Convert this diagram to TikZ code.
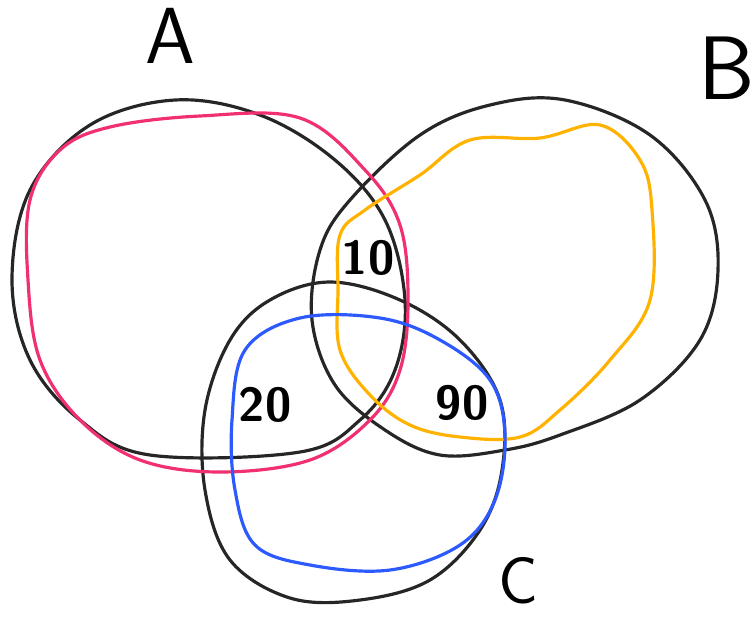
\documentclass[tikz,border=0pt]{standalone}
\begin{document}
\begin{tikzpicture}[
            x=0.0265cm, y=-0.0265cm,
            setline/.style={line width=2.4pt, line join=round},
            setlabel/.style={font=\sffamily\fontsize{60}{64}\selectfont, inner sep=0pt},
            count/.style={font=\sffamily\bfseries\fontsize{36}{40}\selectfont, inner sep=0pt}
        ]
            \useasboundingbox (0,0) rectangle (755,619);
            % black sets
            \draw[setline, black!85] plot[smooth cycle, tension=0.6] coordinates {
                (175,100) (260,115) (335,160) (385,220) (405,300) (395,370) (360,420)
                (300,452) (150,455) (80,420) (30,360) (12,280) (30,190) (90,125)};
            \draw[setline, black!85] plot[smooth cycle, tension=0.6] coordinates {
                (565,100) (650,135) (705,200) (718,270) (700,340) (640,400) (560,435)
                (505,450) (440,455) (385,430) (335,385) (312,320) (320,250) (350,200)
                (420,135) (490,105)};
            \draw[setline, black!85] plot[smooth cycle, tension=0.6] coordinates {
                (330,282) (400,300) (460,340) (500,400) (502,470) (480,530) (430,580)
                (360,600) (290,598) (230,560) (205,490) (205,410) (230,340) (270,300)};
            % coloured sets
            \draw[setline, color={rgb,255:red,240;green,48;blue,112}] plot[smooth cycle, tension=0.6] coordinates {
                (200,116) (300,118) (365,170) (400,225) (408,300) (400,370) (370,420)
                (310,460) (220,472) (140,460) (80,420) (40,360) (28,280) (30,200)
                (60,150) (110,127)};
            \draw[setline, color={rgb,255:red,255;green,178;blue,0}] plot[smooth cycle, tension=0.6] coordinates {
                (600,125) (640,160) (652,210) (650,300) (610,360) (560,410) (520,437)
                (460,437) (410,425) (370,395) (340,350) (338,290) (340,235) (365,210)
                (420,175) (470,140) (540,138)};
            \draw[setline, color={rgb,255:red,45;green,90;blue,255}] plot[smooth cycle, tension=0.6] coordinates {
                (300,318) (380,318) (440,340) (490,380) (505,435) (495,500) (460,545)
                (390,570) (310,565) (255,545) (235,490) (232,420) (245,350)};
            % labels
            \node[setlabel] (labA) at (170,36) {A};
            \node[setlabel, font=\sffamily\fontsize{68}{72}\selectfont] (labB) at (727,68) {B};
            \node[setlabel, font=\sffamily\fontsize{50}{54}\selectfont] (labC) at (518,581) {C};
            \node[count] (nAB) at (368,258) {10};
            \node[count] (nAC) at (265,405) {20};
            \node[count] (nBC) at (462,403) {90};
        \end{tikzpicture}
\end{document}
